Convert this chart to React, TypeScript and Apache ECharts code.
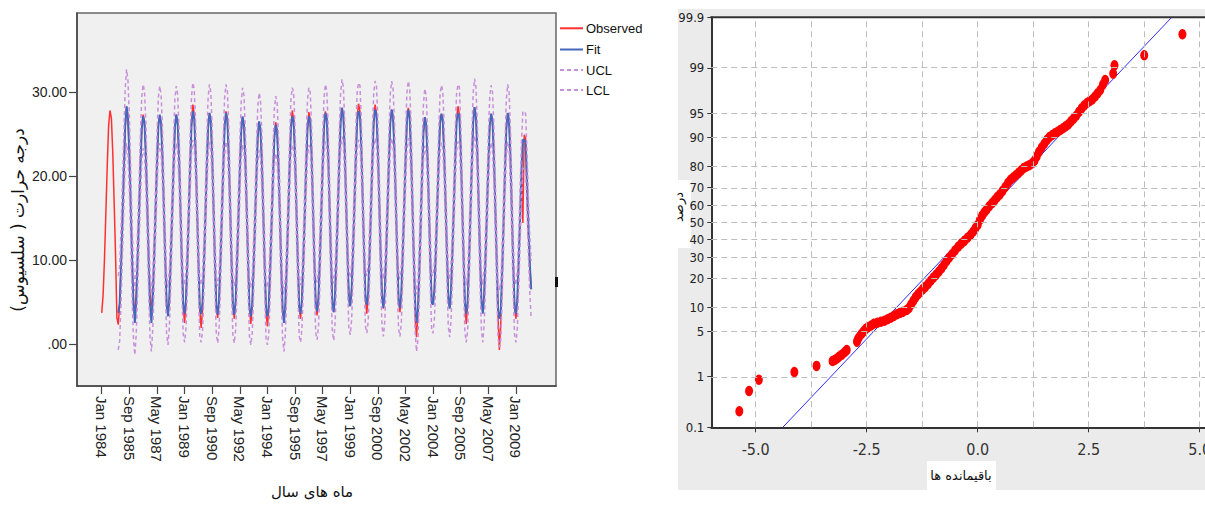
import React, { useEffect, useRef } from "react";
import * as echarts from "echarts";

// ---------------- Left panel: monthly temperature, Jan 1984 .. Dec 2009 ----------------
// month index 0 = Jan 1984
const OBSERVED: number[] = [
  3.7, 5.8, 10.1, 15.6, 21.2, 26.0, 27.8, 26.9, 22.8, 16.9, 10.7, 3.1, // 1984
  2.3, 4.6, 9.0, 14.6, 20.3, 25.8, 28.2, 27.1, 22.6, 16.4, 9.8, 4.6, // 1985
  4.2, 6.0, 10.7, 15.9, 21.4, 25.9, 27.3, 26.4, 22.5, 16.6, 10.4, 5.1, // 1986
  4.5, 6.3, 10.9, 16.2, 21.6, 26.0, 27.2, 26.3, 22.3, 16.5, 10.2, 4.9, // 1987
  3.4, 5.3, 10.0, 15.4, 21.0, 25.8, 27.3, 26.2, 22.4, 16.2, 9.9, 4.4, // 1988
  2.5, 4.6, 9.4, 15.1, 21.1, 26.4, 28.5, 27.4, 23.0, 16.6, 10.1, 4.0, // 1989
  1.9, 4.0, 8.7, 14.4, 20.4, 25.6, 27.5, 26.6, 22.3, 16.0, 9.4, 4.3, // 1990
  3.1, 5.1, 9.8, 15.3, 21.0, 25.9, 27.7, 26.7, 22.6, 16.3, 10.0, 4.6, // 1991
  3.0, 4.9, 9.6, 14.9, 20.5, 25.3, 27.0, 26.1, 22.0, 16.1, 9.8, 4.2, // 1992
  2.4, 4.3, 8.9, 14.2, 19.8, 24.6, 26.4, 25.5, 21.6, 15.6, 9.3, 3.8, // 1993
  2.1, 4.2, 8.8, 14.1, 19.7, 24.7, 26.4, 25.4, 21.4, 15.4, 9.1, 4.0, // 1994
  2.7, 4.7, 9.6, 15.1, 20.9, 25.9, 27.8, 26.8, 22.6, 16.3, 9.9, 4.4, // 1995
  3.0, 5.0, 9.8, 15.2, 20.9, 25.7, 27.6, 26.7, 22.5, 16.3, 10.0, 4.7, // 1996
  3.4, 5.4, 10.1, 15.5, 21.2, 26.0, 27.7, 26.8, 22.7, 16.5, 10.3, 5.0, // 1997
  3.8, 5.8, 10.5, 16.0, 21.7, 26.5, 28.1, 27.2, 23.1, 16.9, 10.7, 5.6, // 1998
  4.6, 6.6, 11.3, 16.7, 22.4, 27.1, 28.6, 27.7, 23.6, 17.4, 11.1, 5.4, // 1999
  3.6, 5.7, 10.5, 16.0, 21.8, 26.7, 28.5, 27.5, 23.3, 17.0, 10.6, 5.5, // 2000
  4.2, 6.2, 10.9, 16.2, 21.8, 26.4, 27.9, 27.0, 23.0, 16.9, 10.7, 5.2, // 2001
  3.8, 5.8, 10.6, 16.0, 21.7, 26.5, 28.1, 27.2, 23.0, 16.8, 10.5, 3.0, // 2002
  0.8, 3.5, 8.6, 14.3, 20.2, 25.3, 27.0, 26.1, 22.0, 15.9, 9.6, 5.0, // 2003
  4.8, 6.7, 11.2, 16.3, 21.8, 26.2, 27.4, 26.6, 22.8, 16.9, 11.0, 5.6, // 2004
  4.3, 6.3, 11.0, 16.4, 22.1, 26.9, 28.3, 27.4, 23.3, 17.1, 10.9, 4.6, // 2005
  2.4, 4.6, 9.5, 15.2, 21.2, 26.4, 28.2, 27.2, 22.9, 16.5, 10.2, 5.2, // 2006
  4.0, 6.0, 10.6, 15.9, 21.4, 26.0, 27.4, 26.5, 22.5, 16.4, 10.3, 3.2, // 2007
  -0.7, 2.4, 8.1, 14.1, 20.3, 25.7, 27.5, 26.5, 22.2, 15.9, 9.4, 4.3, // 2008
  3.0, 5.1, 9.9, 15.1, 20.6, 14.4, 24.9, 24.5, 17.5, 13.0, 9.5, 6.6, // 2009
];

// model output starts at Jan 1985 (month index 12)
const FIT_START_MONTH = 12;
const FIT: number[] = [
  3.7, 4.8, 9.3, 14.8, 20.5, 25.9, 28.3, 27.0, 22.8, 16.6, 10.1, 4.9, // 1985
  2.5, 5.0, 9.9, 15.3, 20.9, 25.6, 27.1, 26.3, 22.3, 16.3, 10.0, 4.6, // 1986
  2.5, 5.3, 10.3, 15.8, 21.3, 25.9, 27.3, 26.3, 22.2, 16.3, 10.1, 4.7, // 1987
  3.3, 5.5, 10.2, 15.5, 21.0, 25.8, 27.3, 26.3, 22.3, 16.2, 10.0, 4.6, // 1988
  3.6, 5.2, 9.8, 15.3, 21.0, 26.0, 27.7, 26.9, 22.8, 16.5, 10.0, 4.4, // 1989
  3.6, 4.9, 9.3, 14.8, 20.6, 25.7, 27.5, 26.6, 22.4, 16.2, 9.8, 4.5, // 1990
  3.5, 5.2, 9.9, 15.2, 20.9, 25.9, 27.5, 26.7, 22.5, 16.3, 10.0, 4.5, // 1991
  3.5, 5.1, 9.7, 15.0, 20.6, 25.4, 27.1, 26.2, 22.1, 16.1, 9.8, 4.3, // 1992
  3.3, 4.7, 9.2, 14.4, 19.9, 24.8, 26.5, 25.6, 21.6, 15.7, 9.5, 4.1, // 1993
  3.3, 4.6, 9.0, 14.2, 19.7, 24.5, 26.1, 25.4, 21.4, 15.5, 9.3, 4.1, // 1994
  2.5, 4.6, 9.4, 14.9, 20.6, 25.6, 27.1, 26.6, 22.4, 16.2, 9.9, 4.4, // 1995
  3.6, 5.2, 9.9, 15.2, 20.8, 25.6, 27.1, 26.6, 22.5, 16.3, 10.0, 4.7, // 1996
  3.9, 5.5, 10.2, 15.5, 21.1, 25.9, 27.5, 26.8, 22.7, 16.5, 10.3, 4.9, // 1997
  3.8, 5.8, 10.5, 15.9, 21.6, 26.4, 28.1, 27.2, 23.1, 16.9, 10.7, 5.3, // 1998
  4.5, 6.3, 11.0, 16.4, 22.0, 26.6, 27.7, 27.4, 23.4, 17.3, 11.0, 5.5, // 1999
  4.7, 6.1, 10.7, 16.1, 21.8, 26.5, 27.9, 27.3, 23.2, 17.0, 10.7, 5.5, // 2000
  4.3, 6.1, 10.8, 16.2, 21.8, 26.4, 27.9, 27.0, 23.0, 16.9, 10.6, 5.2, // 2001
  4.3, 6.0, 10.7, 16.0, 21.6, 26.4, 27.9, 27.1, 23.0, 16.8, 10.5, 4.8, // 2002
  2.5, 3.9, 8.7, 14.3, 20.1, 25.2, 27.0, 26.1, 22.0, 16.0, 9.8, 4.9, // 2003
  4.7, 6.5, 11.1, 16.3, 21.8, 26.2, 27.4, 26.7, 22.8, 16.9, 10.9, 5.5, // 2004
  4.2, 6.3, 11.0, 16.3, 21.9, 26.4, 27.5, 27.2, 23.2, 17.0, 10.8, 4.9, // 2005
  3.6, 5.0, 9.7, 15.3, 21.2, 26.4, 28.2, 27.2, 23.0, 16.6, 10.3, 5.0, // 2006
  3.6, 5.8, 10.5, 15.8, 21.4, 26.0, 27.4, 26.6, 22.6, 16.5, 10.3, 4.2, // 2007
  3.0, 3.9, 8.6, 14.3, 20.3, 25.6, 27.5, 26.6, 22.3, 16.0, 9.6, 4.5, // 2008
  3.6, 5.3, 10.0, 15.2, 20.7, 24.3, 24.3, 24.0, 19.5, 14.2, 9.6, 6.5, // 2009
];

const UCL: number[] = [
  8.1, 9.2, 13.7, 19.2, 24.9, 30.3, 32.7, 31.4, 27.2, 21.0, 14.5, 9.3, // 1985
  6.3, 8.8, 13.7, 19.1, 24.7, 29.4, 30.9, 30.1, 26.1, 20.1, 13.8, 8.4, // 1986
  5.9, 8.7, 13.7, 19.2, 24.7, 29.3, 30.7, 29.7, 25.6, 19.7, 13.5, 8.1, // 1987
  6.7, 8.9, 13.6, 18.9, 24.4, 29.2, 30.7, 29.7, 25.7, 19.6, 13.4, 8.0, // 1988
  7.0, 8.6, 13.2, 18.7, 24.4, 29.4, 31.1, 30.3, 26.2, 19.9, 13.4, 7.8, // 1989
  7.0, 8.3, 12.7, 18.2, 24.0, 29.1, 30.9, 30.0, 25.8, 19.6, 13.2, 7.9, // 1990
  6.9, 8.6, 13.3, 18.6, 24.3, 29.3, 30.9, 30.1, 25.9, 19.7, 13.4, 7.9, // 1991
  6.9, 8.5, 13.1, 18.4, 24.0, 28.8, 30.5, 29.6, 25.5, 19.5, 13.2, 7.7, // 1992
  6.7, 8.1, 12.6, 17.8, 23.3, 28.2, 29.9, 29.0, 25.0, 19.1, 12.9, 7.5, // 1993
  6.7, 8.0, 12.4, 17.6, 23.1, 27.9, 29.5, 28.8, 24.8, 18.9, 12.7, 7.5, // 1994
  5.9, 8.0, 12.8, 18.3, 24.0, 29.0, 30.5, 30.0, 25.8, 19.6, 13.3, 7.8, // 1995
  7.0, 8.6, 13.3, 18.6, 24.2, 29.0, 30.5, 30.0, 25.9, 19.7, 13.4, 8.1, // 1996
  7.3, 8.9, 13.6, 18.9, 24.5, 29.3, 30.9, 30.2, 26.1, 19.9, 13.7, 8.3, // 1997
  7.2, 9.2, 13.9, 19.3, 25.0, 29.8, 31.5, 30.6, 26.5, 20.3, 14.1, 8.7, // 1998
  7.9, 9.7, 14.4, 19.8, 25.4, 30.0, 31.1, 30.8, 26.8, 20.7, 14.4, 8.9, // 1999
  8.1, 9.5, 14.1, 19.5, 25.2, 29.9, 31.3, 30.7, 26.6, 20.4, 14.1, 8.9, // 2000
  7.7, 9.5, 14.2, 19.6, 25.2, 29.8, 31.3, 30.4, 26.4, 20.3, 14.0, 8.6, // 2001
  7.7, 9.4, 14.1, 19.4, 25.0, 29.8, 31.3, 30.5, 26.4, 20.2, 13.9, 8.2, // 2002
  5.9, 7.3, 12.1, 17.7, 23.5, 28.6, 30.4, 29.5, 25.4, 19.4, 13.2, 8.3, // 2003
  8.1, 9.9, 14.5, 19.7, 25.2, 29.6, 30.8, 30.1, 26.2, 20.3, 14.3, 8.9, // 2004
  7.6, 9.7, 14.4, 19.7, 25.3, 29.8, 30.9, 30.6, 26.6, 20.4, 14.2, 8.3, // 2005
  7.0, 8.4, 13.1, 18.7, 24.6, 29.8, 31.6, 30.6, 26.4, 20.0, 13.7, 8.4, // 2006
  7.0, 9.2, 13.9, 19.2, 24.8, 29.4, 30.8, 30.0, 26.0, 19.9, 13.7, 7.6, // 2007
  6.4, 7.3, 12.0, 17.7, 23.7, 29.0, 30.9, 30.0, 25.7, 19.4, 13.0, 7.9, // 2008
  7.0, 8.7, 13.4, 18.6, 24.1, 27.7, 27.7, 27.4, 22.9, 17.6, 13.0, 9.9, // 2009
];

const LCL: number[] = [
  -0.7, 0.4, 4.9, 10.4, 16.1, 21.5, 23.9, 22.6, 18.4, 12.2, 5.7, 0.5, // 1985
  -1.3, 1.2, 6.1, 11.5, 17.1, 21.8, 23.3, 22.5, 18.5, 12.5, 6.2, 0.8, // 1986
  -0.9, 1.9, 6.9, 12.4, 17.9, 22.5, 23.9, 22.9, 18.8, 12.9, 6.7, 1.3, // 1987
  -0.1, 2.1, 6.8, 12.1, 17.6, 22.4, 23.9, 22.9, 18.9, 12.8, 6.6, 1.2, // 1988
  0.2, 1.8, 6.4, 11.9, 17.6, 22.6, 24.3, 23.5, 19.4, 13.1, 6.6, 1.0, // 1989
  0.2, 1.5, 5.9, 11.4, 17.2, 22.3, 24.1, 23.2, 19.0, 12.8, 6.4, 1.1, // 1990
  0.1, 1.8, 6.5, 11.8, 17.5, 22.5, 24.1, 23.3, 19.1, 12.9, 6.6, 1.1, // 1991
  0.1, 1.7, 6.3, 11.6, 17.2, 22.0, 23.7, 22.8, 18.7, 12.7, 6.4, 0.9, // 1992
  -0.1, 1.3, 5.8, 11.0, 16.5, 21.4, 23.1, 22.2, 18.2, 12.3, 6.1, 0.7, // 1993
  -0.1, 1.2, 5.6, 10.8, 16.3, 21.1, 22.7, 22.0, 18.0, 12.1, 5.9, 0.7, // 1994
  -0.9, 1.2, 6.0, 11.5, 17.2, 22.2, 23.7, 23.2, 19.0, 12.8, 6.5, 1.0, // 1995
  0.2, 1.8, 6.5, 11.8, 17.4, 22.2, 23.7, 23.2, 19.1, 12.9, 6.6, 1.3, // 1996
  0.5, 2.1, 6.8, 12.1, 17.7, 22.5, 24.1, 23.4, 19.3, 13.1, 6.9, 1.5, // 1997
  0.4, 2.4, 7.1, 12.5, 18.2, 23.0, 24.7, 23.8, 19.7, 13.5, 7.3, 1.9, // 1998
  1.1, 2.9, 7.6, 13.0, 18.6, 23.2, 24.3, 24.0, 20.0, 13.9, 7.6, 2.1, // 1999
  1.3, 2.7, 7.3, 12.7, 18.4, 23.1, 24.5, 23.9, 19.8, 13.6, 7.3, 2.1, // 2000
  0.9, 2.7, 7.4, 12.8, 18.4, 23.0, 24.5, 23.6, 19.6, 13.5, 7.2, 1.8, // 2001
  0.9, 2.6, 7.3, 12.6, 18.2, 23.0, 24.5, 23.7, 19.6, 13.4, 7.1, 1.4, // 2002
  -0.9, 0.5, 5.3, 10.9, 16.7, 21.8, 23.6, 22.7, 18.6, 12.6, 6.4, 1.5, // 2003
  1.3, 3.1, 7.7, 12.9, 18.4, 22.8, 24.0, 23.3, 19.4, 13.5, 7.5, 2.1, // 2004
  0.8, 2.9, 7.6, 12.9, 18.5, 23.0, 24.1, 23.8, 19.8, 13.6, 7.4, 1.5, // 2005
  0.2, 1.6, 6.3, 11.9, 17.8, 23.0, 24.8, 23.8, 19.6, 13.2, 6.9, 1.6, // 2006
  0.2, 2.4, 7.1, 12.4, 18.0, 22.6, 24.0, 23.2, 19.2, 13.1, 6.9, 0.8, // 2007
  -0.4, 0.5, 5.2, 10.9, 16.9, 22.2, 24.1, 23.2, 18.9, 12.6, 6.2, 1.1, // 2008
  0.2, 1.9, 6.6, 11.8, 17.3, 20.9, 20.9, 20.6, 16.1, 10.8, 6.2, 3.1, // 2009
];

const X_TICK_MONTHS: number[] = [0, 20, 40, 60, 80, 100, 120, 140, 160, 180, 200, 220, 240, 260, 280, 300];
const X_TICK_LABELS: string[] = [
  "Jan 1984", "Sep 1985", "May 1987", "Jan 1989", "Sep 1990", "May 1992", "Jan 1994", "Sep 1995",
  "May 1997", "Jan 1999", "Sep 2000", "May 2002", "Jan 2004", "Sep 2005", "May 2007", "Jan 2009",
];
const Y_TICKS: number[] = [0, 10, 20, 30];
const Y_TICK_LABELS: string[] = [".00", "10.00", "20.00", "30.00"];
const LEGEND_NAMES: string[] = ["Observed", "Fit", "UCL", "LCL"];

// ---------------- Right panel: normal probability plot of residuals ----------------
const RESIDUALS: number[] = [
  -5.37, -5.15, -4.93, -4.13, -3.63,
  -3.27, -3.22, -3.17, -3.12, -3.06, -3.0, -2.95,
  -2.72, -2.7, -2.67, -2.62, -2.57, -2.52, -2.47, -2.4, -2.34, -2.26, -2.18, -2.1, -2.03, -1.96,
  -1.89, -1.82, -1.75, -1.68, -1.6, -1.55, -1.5, -1.45, -1.4, -1.35, -1.3, -1.24, -1.18, -1.12,
  -1.06, -1.0, -0.94, -0.88, -0.82, -0.76, -0.7, -0.64, -0.58, -0.51, -0.44, -0.37, -0.3, -0.23,
  -0.16, -0.1, -0.05, 0.0, 0.05, 0.1, 0.15, 0.2, 0.26, 0.32, 0.38, 0.44, 0.5, 0.56, 0.62, 0.68,
  0.74, 0.8, 0.86, 0.92, 0.98, 1.04, 1.1, 1.16, 1.22, 1.28, 1.33, 1.38, 1.44, 1.5, 1.56, 1.62,
  1.68, 1.74, 1.8, 1.86, 1.92, 1.98, 2.04, 2.1, 2.16, 2.22, 2.28, 2.34, 2.4, 2.46, 2.52, 2.58,
  2.64, 2.7, 2.76, 2.82, 2.87,
  3.05, 3.08, 3.75, 4.61,
];
const PERCENTS: number[] = [
  0.22, 0.55, 0.88, 1.2, 1.52,
  1.83, 1.9, 2.0, 2.15, 2.3, 2.5, 2.7,
  3.6, 3.9, 4.2, 4.6, 5.0, 5.4, 5.7, 6.0, 6.3, 6.5, 6.7, 6.9, 7.2, 7.5,
  7.9, 8.3, 8.6, 8.9, 9.3, 9.8, 10.8, 11.8, 12.9, 13.8, 14.6, 15.6, 16.5, 17.6,
  18.9, 20.2, 21.4, 22.8, 24.3, 26.0, 28.0, 29.8, 31.5, 33.6, 35.6, 37.4, 39.0, 40.8,
  42.6, 44.5, 46.5, 48.5, 51.5, 54.0, 56.0, 57.6, 59.6, 61.3, 63.0, 64.8, 66.3, 68.2, 70.3, 72.3,
  73.9, 75.0, 76.1, 77.2, 78.3, 79.4, 80.0, 80.5, 81.2, 82.4, 84.0, 85.6, 87.0, 88.2, 89.3, 90.1,
  90.6, 91.0, 91.4, 91.8, 92.2, 92.6, 93.0, 93.6, 94.1, 94.6, 95.2, 95.7, 96.1, 96.4, 96.6, 96.8,
  97.1, 97.4, 97.7, 98.1, 98.4,
  98.75, 99.1, 99.41, 99.77,
];
// expected-normal reference line end points [residual, percent]
const REF_LINE: number[][] = [[-4.39, 0.1], [4.37, 99.9]];
const PROB_TICKS: number[] = [0.1, 1, 5, 10, 20, 30, 40, 50, 60, 70, 80, 90, 95, 99, 99.9];
const PROB_TICK_LABELS: string[] = ["0.1", "1", "5", "10", "20", "30", "40", "50", "60", "70", "80", "90", "95", "99", "99.9"];
const PROB_GRID: number[] = [1, 5, 10, 20, 30, 40, 50, 60, 70, 80, 90, 95, 99];
const RES_TICKS: number[] = [-5, -2.5, 0, 2.5, 5];
const RES_GRID: number[] = [-5, -3.75, -2.5, -1.25, 0, 1.25, 2.5, 3.75, 5];

// inverse standard normal CDF (probability-paper scale)
function probit(p: number): number {
  const a = [-39.69683028665376, 220.9460984245205, -275.9285104469687, 138.357751867269, -30.66479806614716, 2.506628277459239];
  const b = [-54.47609879822406, 161.5858368580409, -155.6989798598866, 66.80131188771972, -13.28068155288572];
  const c = [-0.007784894002430293, -0.3223964580411365, -2.400758277161838, -2.549732539343734, 4.374664141464968, 2.938163982698783];
  const d = [0.007784695709041462, 0.3224671290700398, 2.445134137142996, 3.754408661907416];
  const pl = 0.02425;
  if (p < pl) {
    const q = Math.sqrt(-2 * Math.log(p));
    return (((((c[0] * q + c[1]) * q + c[2]) * q + c[3]) * q + c[4]) * q + c[5]) / ((((d[0] * q + d[1]) * q + d[2]) * q + d[3]) * q + 1);
  }
  if (p <= 1 - pl) {
    const q = p - 0.5;
    const r = q * q;
    return ((((((a[0] * r + a[1]) * r + a[2]) * r + a[3]) * r + a[4]) * r + a[5]) * q) / (((((b[0] * r + b[1]) * r + b[2]) * r + b[3]) * r + b[4]) * r + 1);
  }
  const q = Math.sqrt(-2 * Math.log(1 - p));
  return -(((((c[0] * q + c[1]) * q + c[2]) * q + c[3]) * q + c[4]) * q + c[5]) / ((((d[0] * q + d[1]) * q + d[2]) * q + d[3]) * q + 1);
}

const LATIN = '"Liberation Sans", Arial, sans-serif';
const NARROW = '"Liberation Sans Narrow", "DejaVu Sans Condensed", sans-serif';
const ARABIC = '"DejaVu Sans", sans-serif';

const COLORS = { obs: "#ff3030", fit: "#4466bb", cl: "#c890da" };

export default function App() {
  const ref = useRef<HTMLDivElement>(null);

  useEffect(() => {
    document.body.style.margin = "0";
    if (!ref.current) return;
    const chart = echarts.init(ref.current, undefined, { renderer: "svg" });

    const probTickZ = PROB_TICKS.map((p) => probit(p / 100));
    const zMin = probit(0.001) - 1e-6;
    const zMax = probit(0.999) + 1e-6;
    const probLabel = (v: number) => {
      let best = 0;
      for (let i = 1; i < probTickZ.length; i++) {
        if (Math.abs(probTickZ[i] - v) < Math.abs(probTickZ[best] - v)) best = i;
      }
      return PROB_TICK_LABELS[best];
    };

    // right plot: 44.4 px per residual unit, starting at -6 at x = 711.3, running to the page edge
    const rightLeft = 711.3;
    const rightWidth = 1205 - rightLeft;
    const rightMax = -6 + rightWidth / 44.4;

    const tsLine = (name: string, data: number[][], color: string, width: number, dashed: boolean, z: number) => ({
      name,
      type: "line",
      xAxisIndex: 0,
      yAxisIndex: 0,
      data,
      symbol: "none",
      showSymbol: false,
      z,
      lineStyle: { color, width, type: dashed ? [4, 3] : "solid" },
      itemStyle: { color },
      emphasis: { disabled: true },
      silent: true,
    });

    const legendColors = [COLORS.obs, COLORS.fit, COLORS.cl, COLORS.cl];
    const legendY = [28.3, 49.5, 70, 90];
    const legendGraphics: any[] = [];
    LEGEND_NAMES.forEach((name, i) => {
      legendGraphics.push({
        type: "line", z: 10, silent: true,
        shape: { x1: 560, y1: legendY[i], x2: 583, y2: legendY[i] },
        style: { stroke: legendColors[i], lineWidth: 2, lineDash: i >= 2 ? [4, 3] : null },
      });
      legendGraphics.push({
        type: "text", z: 10, silent: true, x: 586, y: legendY[i],
        style: { text: name, font: `13px ${LATIN}`, fill: "#111", align: "left", verticalAlign: "middle", textAlign: "left", textVerticalAlign: "middle" },
      });
    });

    chart.setOption({
      animation: false,
      backgroundColor: "transparent",
      grid: [
        {
          left: 77, top: 13, width: 479, height: 373, outerBoundsMode: "none",
          show: true, backgroundColor: "#f0f0f0", borderColor: "#666", borderWidth: 1.5,
        },
        {
          left: rightLeft, top: 17.3, width: rightWidth, height: 410, outerBoundsMode: "none",
          show: true, backgroundColor: "#ffffff", borderWidth: 0,
        },
      ],
      xAxis: [
        {
          type: "value", gridIndex: 0, min: -17.9, max: 329,
          axisLine: { show: true, onZero: false, lineStyle: { color: "#444", width: 1.5 } },
          axisTick: { show: true, customValues: X_TICK_MONTHS, length: 8, lineStyle: { color: "#444", width: 1.2 } },
          axisLabel: {
            customValues: X_TICK_MONTHS, rotate: -90, margin: 10,
            fontFamily: LATIN, fontSize: 15, color: "#222",
            formatter: (v: number) => X_TICK_LABELS[X_TICK_MONTHS.indexOf(Math.round(v))] ?? "",
          },
          splitLine: { show: false },
        },
        {
          type: "value", gridIndex: 1, min: -6, max: rightMax,
          axisLine: { show: true, onZero: false, lineStyle: { color: "#333", width: 2 } },
          axisTick: { show: true, customValues: RES_TICKS, length: 5, lineStyle: { color: "#333" } },
          axisLabel: {
            customValues: RES_TICKS, margin: 14, hideOverlap: false,
            fontFamily: NARROW, fontSize: 16, color: "#333",
            formatter: (v: number) => v.toFixed(1),
          },
          splitLine: { show: false },
        },
      ],
      yAxis: [
        {
          type: "value", gridIndex: 0, min: -5, max: 39.4,
          axisLine: { show: true, onZero: false, lineStyle: { color: "#444", width: 1.5 } },
          axisTick: { show: true, customValues: Y_TICKS, length: 8, lineStyle: { color: "#444", width: 1.2 } },
          axisLabel: {
            customValues: Y_TICKS, margin: 10,
            fontFamily: LATIN, fontSize: 14, color: "#222",
            formatter: (v: number) => Y_TICK_LABELS[Y_TICKS.indexOf(Math.round(v))] ?? "",
          },
          splitLine: { show: false },
        },
        {
          type: "value", gridIndex: 1, min: zMin, max: zMax,
          axisLine: { show: true, onZero: false, lineStyle: { color: "#333", width: 2 } },
          axisTick: { show: true, customValues: probTickZ, length: 4, lineStyle: { color: "#333" } },
          axisLabel: {
            customValues: probTickZ, margin: 7,
            fontFamily: NARROW, fontSize: 13, color: "#222",
            formatter: (v: number) => probLabel(v),
          },
          splitLine: { show: false },
        },
      ],
      series: [
        tsLine(LEGEND_NAMES[0], OBSERVED.map((v, i) => [i, v]), COLORS.obs, 1.5, false, 2),
        tsLine(LEGEND_NAMES[1], FIT.map((v, i) => [i + FIT_START_MONTH, v]), COLORS.fit, 2, false, 3),
        tsLine(LEGEND_NAMES[2], UCL.map((v, i) => [i + FIT_START_MONTH, v]), COLORS.cl, 1.5, true, 4),
        tsLine(LEGEND_NAMES[3], LCL.map((v, i) => [i + FIT_START_MONTH, v]), COLORS.cl, 1.5, true, 4),
        {
          name: "expected",
          type: "line",
          xAxisIndex: 1,
          yAxisIndex: 1,
          data: REF_LINE.map(([r, p]) => [r, probit(p / 100)]),
          symbol: "none",
          z: 2,
          silent: true,
          lineStyle: { color: "#2d2dff", width: 1 },
          emphasis: { disabled: true },
          markLine: {
            silent: true,
            symbol: ["none", "none"],
            label: { show: false },
            emphasis: { disabled: true },
            lineStyle: { color: "#bdbdbd", width: 1, type: [6, 4] },
            data: [
              ...RES_GRID.map((v) => ({ xAxis: v })),
              ...PROB_GRID.map((p) => ({ yAxis: probit(p / 100) })),
            ],
          },
        },
        {
          name: "residuals",
          type: "scatter",
          xAxisIndex: 1,
          yAxisIndex: 1,
          z: 3,
          silent: true,
          symbol: "circle",
          symbolSize: [8, 10.5],
          itemStyle: { color: "#ff0000", opacity: 1 },
          data: RESIDUALS.map((r, i) => [r, probit(PERCENTS[i] / 100)]),
        },
      ],
      graphic: [
        // right panel frame background
        { type: "rect", z: -10, silent: true, shape: { x: 678, y: 9, width: 540, height: 481 }, style: { fill: "#ebebeb" } },
        { type: "rect", z: -9, silent: true, shape: { x: 666, y: 180, width: 25, height: 68 }, style: { fill: "#ffffff" } },
        { type: "rect", z: -9, silent: true, shape: { x: 927, y: 461, width: 69, height: 29 }, style: { fill: "#ffffff" } },
        // top frame line of the right plot
        { type: "line", z: 10, silent: true, shape: { x1: rightLeft - 1, y1: 17.3, x2: 1205, y2: 17.3 }, style: { stroke: "#333", lineWidth: 2 } },
        // small mark on the right edge of the left frame
        { type: "rect", z: 10, silent: true, shape: { x: 555, y: 277, width: 3, height: 10 }, style: { fill: "#111" } },
        ...legendGraphics,
        {
          type: "text", z: 10, silent: true, x: 18, y: 220, rotation: Math.PI / 2,
          style: { text: "درجه حرارت ( سلسیوس)", font: `17px ${ARABIC}`, fill: "#111", align: "center", verticalAlign: "middle", textAlign: "center", textVerticalAlign: "middle" },
        },
        {
          type: "text", z: 10, silent: true, x: 312, y: 492,
          style: { text: "ماه های سال", font: `15px ${ARABIC}`, fill: "#111", align: "center", verticalAlign: "middle", textAlign: "center", textVerticalAlign: "middle" },
        },
        {
          type: "text", z: 10, silent: true, x: 678, y: 207, rotation: Math.PI / 2,
          style: { text: "درصد", font: `13px ${ARABIC}`, fill: "#111", align: "center", verticalAlign: "middle", textAlign: "center", textVerticalAlign: "middle" },
        },
        {
          type: "text", z: 10, silent: true, x: 961, y: 475,
          style: { text: "باقیمانده ها", font: `13px ${ARABIC}`, fill: "#111", align: "center", verticalAlign: "middle", textAlign: "center", textVerticalAlign: "middle" },
        },
      ],
    });

    return () => chart.dispose();
  }, []);

  return <div ref={ref} style={{ width: 1205, height: 505 }} />;
}
